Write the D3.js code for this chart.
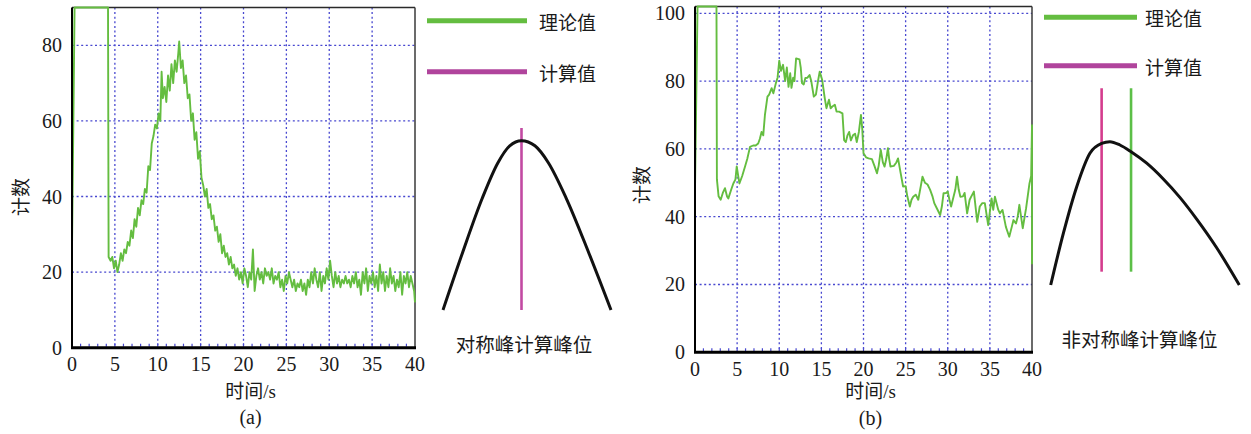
<!DOCTYPE html>
<html>
<head>
<meta charset="utf-8">
<script src="https://cdn.jsdelivr.net/npm/d3@7"></script>
<style>
  body { margin: 0; background: #fff; }
  svg text { fill: #1a1a1a; }
</style>
</head>
<body>
<script>
// count vs time, symmetric-peak run (a): [time s, count]
const seriesA = [
  [0,16],[0,26],[0.3,90],[4.2,90],[4.27,24],[4.5,23],[4.7,24],[4.9,21],[5.1,23],[5.3,20],[5.5,22],
  [5.7,25],[5.9,23],[6.1,26],[6.3,25],[6.5,28],[6.7,27],[6.9,31],[7.1,29],[7.3,34],[7.5,32],[7.7,37],
  [7.9,35],[8.1,39],[8.3,38],[8.5,42],[8.7,41],[8.9,48],[9.1,47],[9.3,54],[9.5,56],[9.7,59],[9.9,58],
  [10.1,62],[10.3,60],[10.45,73],[10.6,66],[10.8,69],[11.0,65],[11.2,72],[11.4,68],[11.6,75],[11.8,70],
  [12.0,76],[12.2,73],[12.4,78],[12.5,81],[12.7,74],[12.9,76],[13.1,70],[13.3,72],[13.5,66],[13.7,67],
  [13.9,60],[14.1,62],[14.3,55],[14.5,57],[14.7,50],[14.9,52],[15.1,45],[15.3,43],[15.5,40],[15.7,42],
  [15.9,37],[16.1,38],[16.3,34],[16.5,35],[16.7,31],[16.9,32],[17.1,28],[17.3,30],[17.5,25],[17.7,27],
  [17.9,24],[18.1,25],[18.3,22],[18.5,24],[18.7,21],[18.9,22],[19.1,19],[19.3,21],[19.5,18],[19.7,20],
  [19.9,17],[20.1,21],[20.3,19],[20.5,16],[20.7,20],[20.9,18],[21.1,26],[21.3,15],[21.5,19],[21.7,21],
  [21.9,18],[22.1,20],[22.3,17],[22.5,21],[22.7,19],[22.9,20],[23.1,18],[23.3,21],[23.5,17],[23.7,19],
  [23.9,18],[24.1,20],[24.3,16],[24.5,18],[24.7,15],[24.9,19],[25.1,17],[25.3,20],[25.5,18],[25.7,16],
  [25.9,18],[26.1,15],[26.3,17],[26.5,16],[26.7,18],[26.9,15],[27.1,17],[27.3,14],[27.5,18],[27.7,16],
  [27.9,20],[28.1,17],[28.3,21],[28.5,18],[28.7,16],[28.9,20],[29.1,15],[29.3,19],[29.5,17],[29.7,21],
  [29.9,18],[30.1,23],[30.3,19],[30.5,16],[30.7,20],[30.9,17],[31.1,19],[31.3,16],[31.5,18],[31.7,17],
  [31.9,19],[32.1,17],[32.3,18],[32.5,16],[32.7,19],[32.9,17],[33.1,20],[33.3,16],[33.5,18],[33.7,14],
  [33.9,20],[34.1,17],[34.3,21],[34.5,15],[34.7,19],[34.9,17],[35.1,20],[35.3,16],[35.5,19],[35.7,15],
  [35.9,22],[36.1,17],[36.3,20],[36.5,15],[36.7,19],[36.9,16],[37.1,21],[37.3,17],[37.5,19],[37.7,15],
  [37.9,18],[38.1,16],[38.3,20],[38.5,14],[38.7,19],[38.9,17],[39.1,20],[39.3,16],[39.5,19],[39.7,17],
  [39.9,15],[40,12]
]

// count vs time, asymmetric-peak run (b)
const seriesB = [
  [0,30],[0,48],[0.3,102],[2.55,102],[2.6,51],[2.8,46],[3.05,45],[3.3,47],[3.56,48.4],[3.8,46],[3.96,45.4],
  [4.3,48],[4.55,49.8],[4.8,51],[4.95,54.8],[5.27,49.8],[5.6,52],[5.94,54.8],[6.2,57],[6.53,60.6],[6.9,61],
  [7.2,61],[7.5,61.6],[7.7,63],[7.9,65],[8.1,64],[8.3,70],[8.6,75.4],[8.8,76],[9.1,77.9],[9.3,76.4],
  [9.6,79.4],[9.8,81],[10.0,86],[10.2,83],[10.45,84.8],[10.7,80],[10.9,84],[11.1,78.3],[11.3,82.3],
  [11.45,78],[11.65,81],[11.8,80],[12.0,86.7],[12.4,86.4],[12.55,84],[12.7,79.4],[12.9,79],[13.1,80.9],
  [13.35,81],[13.6,81.8],[13.8,80],[14.1,75.4],[14.35,76],[14.6,80],[14.8,82.8],[15.1,80.3],[15.4,75],
  [15.6,72],[15.9,74.5],[16.1,72],[16.3,72.5],[16.6,73],[16.8,71],[17.1,71],[17.5,70.5],[17.7,62.6],
  [17.9,62],[18.1,64],[18.3,65],[18.5,62.5],[18.75,64],[19.0,64.5],[19.2,62],[19.45,65],[19.7,70],
  [19.85,66],[20.0,58.7],[20.3,57.5],[20.6,57.2],[21.0,57],[21.3,55],[21.6,52.8],[21.8,55],[22.05,59.7],
  [22.3,56],[22.5,54.8],[22.7,57],[22.9,60.2],[23.05,57],[23.2,54.8],[23.6,55],[23.9,56],[24.1,57.2],
  [24.4,53],[24.7,48.9],[25.0,49],[25.2,46],[25.5,43],[25.7,45],[25.9,45.9],[26.2,46.5],[26.5,45],
  [26.8,49],[27.0,51.8],[27.3,50],[27.6,49.5],[27.9,48],[28.2,45.9],[28.4,44],[28.7,42.5],[29.1,40.5],
  [29.3,43],[29.5,46.9],[29.8,47],[30.0,47.4],[30.2,45],[30.4,43],[30.7,46],[30.9,48],[31.1,51.8],
  [31.3,48],[31.5,45.9],[31.8,46],[32.0,47],[32.3,41],[32.6,45],[32.8,46],[33.1,47.4],[33.5,38.5],
  [33.8,43],[34.1,44],[34.4,44],[34.8,37.5],[35.2,45.4],[35.4,42],[35.6,45.9],[36.0,42],[36.2,41],
  [36.5,42],[36.9,37],[37.3,34.1],[37.6,37],[37.8,39],[38.1,38],[38.3,40],[38.5,43.5],[38.9,36.6],
  [39.3,42.5],[39.7,49.8],[39.9,52],[40,67],[40,26]
]

const xTicks = [0, 5, 10, 15, 20, 25, 30, 35, 40]
const minorTicks = [1,2,3,4,6,7,8,9,11,12,13,14,16,17,18,19,21,22,23,24,26,27,28,29,31,32,33,34,36,37,38,39]
const yTicksA = [0, 20, 40, 60, 80]
const yTicksB = [0, 20, 40, 60, 80, 100]
const legendLabels = ['理论值', '计算值']
const xTitle = '时间/s'
const yTitle = '计数'

// schematic peak outlines (relative units)
const symPeakX = [-1, -0.75, -0.5, -0.3, -0.15, 0, 0.15, 0.3, 0.5, 0.75, 1]
const symPeakY = [0, 0.34, 0.66, 0.87, 0.97, 1, 0.97, 0.87, 0.66, 0.34, 0]
const asymPeakX = [0, 0.067, 0.138, 0.208, 0.27, 0.314, 0.367, 0.426, 0.509, 0.597, 0.686, 0.774, 0.88, 1]
const asymPeakY = [0, 0.36, 0.686, 0.919, 0.988, 1, 0.977, 0.93, 0.85, 0.74, 0.61, 0.46, 0.26, 0]
const symMarks = [{ x: 0, color: '#c24aa2' }]
const asymMarks = [{ x: 0.27, color: '#d43c8e' }, { x: 0.426, color: '#5cbf48' }]

const GREEN = '#64bd40'
const MAGENTA = '#b0449c'
const GRID = '#4848d0'
const serif = '"Liberation Serif", "Noto Sans CJK SC", serif'
const cjk = '"Noto Sans CJK SC", sans-serif'

const svg = d3.select('body').append('svg')
  .attr('width', 1251)
  .attr('height', 434)

const panels = [
  {
    id: 'a', series: seriesA, yTicks: yTicksA, yMax: 90,
    left: 72, right: 415, bottom: 347.7, top: 7.5,
    yTitleX: 21, yTitleY: 197, xLabelY: 363.5, tagY: 417,
    legendX: [427, 527], legendY: [20.7, 71.7], legendTextX: 539,
    peak: { xs: symPeakX, ys: symPeakY, xDomain: [-1, 0, 1], xRange: [443, 521.5, 611],
            yRange: [310, 140.7], marks: symMarks, markTop: 1.075, markBottom: 0,
            label: '对称峰计算峰位', labelX: 524, labelY: 345 }
  },
  {
    id: 'b', series: seriesB, yTicks: yTicksB, yMax: 102,
    left: 695, right: 1032, bottom: 352.3, top: 6.5,
    yTitleX: 642, yTitleY: 185, xLabelY: 368.5, tagY: 418,
    legendX: [1044, 1137], legendY: [17.3, 65.7], legendTextX: 1145,
    peak: { xs: asymPeakX, ys: asymPeakY, xDomain: [0, 1], xRange: [1050.7, 1239.3],
            yRange: [285, 141.7], marks: asymMarks, markTop: 1.373, markBottom: 0.093,
            label: '非对称峰计算峰位', labelX: 1139.5, labelY: 340 }
  }
]

panels.forEach(p => {
  const g = svg.append('g')

  const x = d3.scaleLinear().domain([0, 40]).range([p.left, p.right])
  const y = d3.scaleLinear().domain([0, p.yMax]).range([p.bottom, p.top])

  // dotted grid
  g.selectAll('.vgrid').data(xTicks.slice(1, -1)).enter().append('line')
    .attr('x1', d => x(d)).attr('x2', d => x(d))
    .attr('y1', p.top).attr('y2', p.bottom)
    .attr('stroke', GRID).attr('stroke-width', 1.3).attr('stroke-dasharray', '2,2.6')
  g.selectAll('.hgrid').data(p.yTicks.slice(1)).enter().append('line')
    .attr('x1', p.left).attr('x2', p.right)
    .attr('y1', d => y(d)).attr('y2', d => y(d))
    .attr('stroke', GRID).attr('stroke-width', 1.3).attr('stroke-dasharray', '2,2.6')

  // minor ticks along the bottom axis
  g.selectAll('.minor').data(minorTicks.concat(xTicks.slice(1, -1))).enter().append('line')
    .attr('x1', d => x(d)).attr('x2', d => x(d))
    .attr('y1', p.bottom - 1).attr('y2', p.bottom - 4)
    .attr('stroke', GRID).attr('stroke-width', 1.2)

  // frame top / right
  g.append('line').attr('x1', p.left).attr('x2', p.right).attr('y1', p.top).attr('y2', p.top)
    .attr('stroke', '#2a2a2a').attr('stroke-width', 1.5)
  g.append('line').attr('x1', p.right).attr('x2', p.right).attr('y1', p.top).attr('y2', p.bottom)
    .attr('stroke', '#3a3a3a').attr('stroke-width', 1.5)

  // measured counts
  const clipId = 'clip-' + p.id
  svg.append('clipPath').attr('id', clipId).append('rect')
    .attr('x', p.left - 1).attr('y', p.top - 1.5)
    .attr('width', p.right - p.left + 2).attr('height', p.bottom - p.top + 1.5)
  g.append('path')
    .datum(p.series)
    .attr('clip-path', `url(#${clipId})`)
    .attr('d', d3.line().x(d => x(d[0])).y(d => y(d[1])))
    .attr('fill', 'none').attr('stroke', GREEN).attr('stroke-width', 1.9)
    .attr('stroke-linejoin', 'round')

  // left and bottom axis lines
  g.append('line').attr('x1', p.left).attr('x2', p.left).attr('y1', p.top).attr('y2', p.bottom)
    .attr('stroke', '#000').attr('stroke-width', 2)
  g.append('line').attr('x1', p.left - 1).attr('x2', p.right + 1).attr('y1', p.bottom).attr('y2', p.bottom)
    .attr('stroke', '#000').attr('stroke-width', 3)

  // tick labels
  g.selectAll('.xlab').data(xTicks).enter().append('text')
    .attr('x', d => x(d)).attr('y', p.xLabelY).attr('dy', '0.35em')
    .attr('text-anchor', 'middle')
    .style('font-family', serif).style('font-size', '20px')
    .text(d => d)
  g.selectAll('.ylab').data(p.yTicks).enter().append('text')
    .attr('x', p.left - 10).attr('y', d => y(d)).attr('dy', '0.35em')
    .attr('text-anchor', 'end')
    .style('font-family', serif).style('font-size', '20px')
    .text(d => d)

  // axis titles and panel tag
  const midX = (p.left + p.right) / 2 + 7
  g.append('text')
    .attr('x', midX).attr('y', 391.5).attr('dy', '0.35em').attr('text-anchor', 'middle')
    .style('font-family', serif).style('font-size', '19px')
    .text(xTitle)
  g.append('text')
    .attr('transform', `translate(${p.yTitleX},${p.yTitleY}) rotate(-90)`)
    .attr('dy', '0.35em').attr('text-anchor', 'middle')
    .style('font-family', cjk).style('font-size', '19px')
    .text(yTitle)
  g.append('text')
    .attr('x', midX).attr('y', p.tagY).attr('dy', '0.35em').attr('text-anchor', 'middle')
    .style('font-family', serif).style('font-size', '20px')
    .text(`(${p.id})`)

  // legend
  const legendColors = [GREEN, MAGENTA]
  legendLabels.forEach((label, i) => {
    g.append('line')
      .attr('x1', p.legendX[0]).attr('x2', p.legendX[1])
      .attr('y1', p.legendY[i]).attr('y2', p.legendY[i])
      .attr('stroke', legendColors[i]).attr('stroke-width', 5)
    g.append('text')
      .attr('x', p.legendTextX).attr('y', p.legendY[i] + 2.5).attr('dy', '0.35em')
      .style('font-family', cjk).style('font-size', '19px')
      .text(label)
  })

  // schematic peak with peak-position markers
  const pk = p.peak
  const px = d3.scaleLinear().domain(pk.xDomain).range(pk.xRange)
  const py = d3.scaleLinear().domain([0, 1]).range(pk.yRange)
  g.selectAll('.mark').data(pk.marks).enter().append('line')
    .attr('x1', d => px(d.x)).attr('x2', d => px(d.x))
    .attr('y1', py(pk.markBottom)).attr('y2', py(pk.markTop))
    .attr('stroke', d => d.color).attr('stroke-width', 2.6)
  g.append('path')
    .datum(d3.zip(pk.xs, pk.ys))
    .attr('d', d3.line().x(d => px(d[0])).y(d => py(d[1])).curve(d3.curveMonotoneX))
    .attr('fill', 'none').attr('stroke', '#111').attr('stroke-width', 3)
  g.append('text')
    .attr('x', pk.labelX).attr('y', pk.labelY).attr('dy', '0.35em').attr('text-anchor', 'middle')
    .style('font-family', cjk).style('font-size', '19.5px')
    .text(pk.label)
})
</script>
</body>
</html>
